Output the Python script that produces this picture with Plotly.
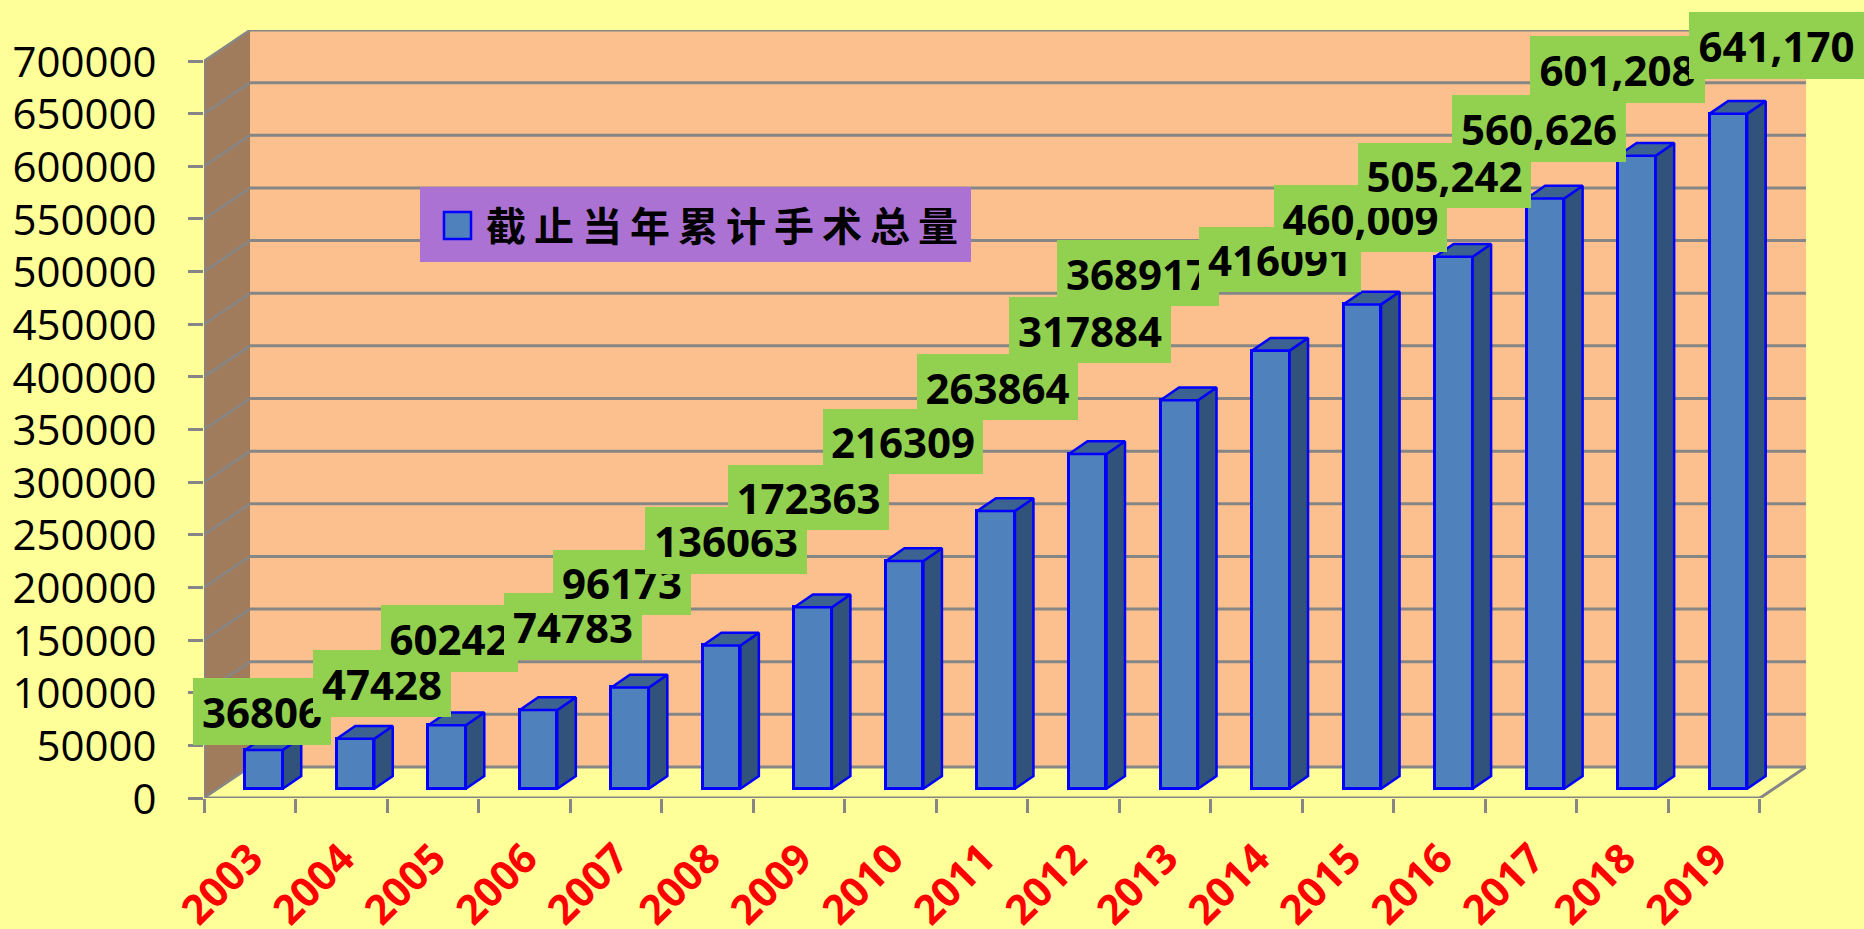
import plotly.graph_objects as go

# ---- data ----
years = ["2003","2004","2005","2006","2007","2008","2009","2010","2011","2012","2013","2014","2015","2016","2017","2018","2019"]
totals = [36806,47428,60242,74783,96173,136063,172363,216309,263864,317884,368917,416091,460009,505242,560626,601208,641170]
label_texts = ["36806","47428","60242","74783","96173","136063","172363","216309","263864","317884","368917","416091","460,009","505,242","560,626","601,208","641,170"]
y_ticks = [0,50000,100000,150000,200000,250000,300000,350000,400000,450000,500000,550000,600000,650000,700000]
series_name = "截止当年累计手术总量"

# ---- layout constants (pixels of the 1864x929 page) ----
W, H = 1864, 929
PL, PR, PT, PB = 204, 1806, 30, 798        # plot area
CAT_PX = 91.5
Y_PX = 737 / 700000
WALL_DX, WALL_DY = 46 / CAT_PX, 31 / Y_PX  # depth of the chart box
BAR_W = 37.5 / CAT_PX
BAR_SHIFT = 14.2 / CAT_PX
BAR_LIFT = 9.3 / Y_PX
BAR_DX, BAR_DY = 18.5 / CAT_PX, 12.7 / Y_PX
XMIN, XMAX = -0.5, 16.5 + WALL_DX
YMAX = 700000 + WALL_DY

label_boxes = [
    (193,678,331,745),(313,650,451,717),(381,605,518,672),(504,593,642,660),
    (553,550,691,615),(645,507,807,574),(728,465,889,530),(823,409,983,474),
    (917,354,1078,420),(1009,297,1171,363),(1057,240,1219,306),(1199,227,1361,292),
    (1274,185,1447,252),(1358,143,1531,208),(1452,95,1626,162),(1530,36,1705,103),(1689,12,1864,79),
]

GRID = "#868686"
WALL = "#FBC08D"
SIDE = "#A07C5D"
PAGE = "#FFFF99"
BLUE = "#0000FF"

def xp(px): return (px - PL) / (PR - PL)
def yp(px): return (PB - px) / (PB - PT)

fig = go.Figure()

# front faces
bar_x = [i + BAR_SHIFT for i in range(len(totals))]
fig.add_trace(go.Bar(
    x=bar_x, y=totals, base=BAR_LIFT, width=BAR_W, name=series_name,
    marker=dict(color="#4F81BD", line=dict(color=BLUE, width=3)),
    text=None, hoverinfo="skip", showlegend=False,
))

# side and top faces derived from the values
side_x, side_y, top_x, top_y = [], [], [], []
for cx, v in zip(bar_x, totals):
    x0, x1 = cx - BAR_W / 2, cx + BAR_W / 2
    yt = v + BAR_LIFT
    side_x += [x1, x1, x1 + BAR_DX, x1 + BAR_DX, x1, None]
    side_y += [BAR_LIFT, yt, yt + BAR_DY, BAR_LIFT + BAR_DY, BAR_LIFT, None]
    top_x += [x0, x1, x1 + BAR_DX, x0 + BAR_DX, x0, None]
    top_y += [yt, yt, yt + BAR_DY, yt + BAR_DY, yt, None]
fig.add_trace(go.Scatter(x=side_x, y=side_y, mode="lines", fill="toself", fillcolor="#31527A",
                         line=dict(color=BLUE, width=2.5), hoverinfo="skip", showlegend=False))
fig.add_trace(go.Scatter(x=top_x, y=top_y, mode="lines", fill="toself", fillcolor="#3C6291",
                         line=dict(color=BLUE, width=2.5), hoverinfo="skip", showlegend=False))

# chart box
shapes = [
    dict(type="rect", x0=XMIN + WALL_DX, x1=XMAX, y0=WALL_DY, y1=YMAX, fillcolor=WALL, line_width=0, layer="below"),
    dict(type="path", layer="below", fillcolor=SIDE, line_width=0,
         path=f"M {XMIN} 0 L {XMIN} 700000 L {XMIN+WALL_DX} {YMAX} L {XMIN+WALL_DX} {WALL_DY} Z"),
]
gl = dict(color=GRID, width=3)
for v in y_ticks:
    shapes.append(dict(type="line", layer="below", line=gl, x0=XMIN + WALL_DX, x1=XMAX, y0=v + WALL_DY, y1=v + WALL_DY))
    shapes.append(dict(type="line", layer="below", line=dict(color=GRID, width=2.5), x0=XMIN, x1=XMIN + WALL_DX, y0=v, y1=v + WALL_DY))
shapes += [
    dict(type="line", layer="below", line=gl, x0=XMIN, x1=XMIN, y0=0, y1=700000),
    dict(type="line", layer="below", line=gl, x0=XMIN, x1=16.5, y0=0, y1=0),
    dict(type="line", layer="below", line=gl, x0=16.5, x1=XMAX, y0=0, y1=WALL_DY),
    # legend box and swatch
    dict(type="rect", xref="paper", yref="paper", x0=xp(420), x1=xp(971), y0=yp(262), y1=yp(187),
         fillcolor="#AB72D3", line_width=0, layer="above"),
    dict(type="rect", xref="paper", yref="paper", x0=xp(444), x1=xp(471), y0=yp(239), y1=yp(212),
         fillcolor="#4F81BD", line=dict(color=BLUE, width=2.5), layer="above"),
]

# data labels, later ones cover earlier ones
annotations = []
for cx, v, txt, (l, t, r, b) in zip(bar_x, totals, label_texts, label_boxes):
    ax = PL + (cx - XMIN) * CAT_PX
    ay = PB - (v + BAR_LIFT) * Y_PX
    annotations.append(dict(
        x=cx, y=v + BAR_LIFT, text=txt, showarrow=False,
        xanchor="center", yanchor="middle", align="center", valign="middle",
        width=r - l, height=b - t, borderpad=0, borderwidth=0, bgcolor="#92D050",
        xshift=(l + r) / 2 - ax, yshift=ay - (t + b) / 2,
        font=dict(family="Open Sans", size=42, color="#000000", weight="bold"),
    ))
annotations.append(dict(
    xref="paper", yref="paper", x=xp(722), y=yp(224), showarrow=False, xanchor="center", yanchor="middle",
    text="\u2009".join(series_name),
    font=dict(family="Noto Sans CJK SC", size=40, color="#000000", weight="bold"),
))

fig.update_layout(
    width=W, height=H, autosize=False,
    margin=dict(l=PL, r=W - PR, t=PT, b=H - PB, pad=0),
    paper_bgcolor=PAGE, plot_bgcolor=PAGE,
    shapes=shapes, annotations=annotations, showlegend=False, bargap=0,
    xaxis=dict(
        type="linear", range=[XMIN, XMAX], tickmode="array", automargin=False,
        tickvals=list(range(len(years))), ticktext=years, ticks="", showgrid=False, zeroline=False,
        tickangle=-45, ticklabelstandoff=27, ticklabelshift=1,
        tickfont=dict(family="Open Sans", size=41, color="#FF0000", weight="bold"),
        minor=dict(tickmode="linear", tick0=XMIN, dtick=1, ticks="outside", ticklen=14, tickwidth=2.5, tickcolor=GRID, showgrid=False),
    ),
    yaxis=dict(
        range=[0, YMAX], tickmode="array", tickvals=y_ticks, ticktext=[str(v) for v in y_ticks], automargin=False,
        ticks="outside", ticklen=15, tickwidth=2.5, tickcolor=GRID, showgrid=False, zeroline=False,
        ticklabelstandoff=23, ticklabelshift=1,
        tickfont=dict(family="Open Sans", size=42, color="#000000"),
    ),
)

fig.write_html("out.html", config=dict(displayModeBar=False),
               post_script="document.body.style.margin='0';document.documentElement.style.overflow='hidden';")
